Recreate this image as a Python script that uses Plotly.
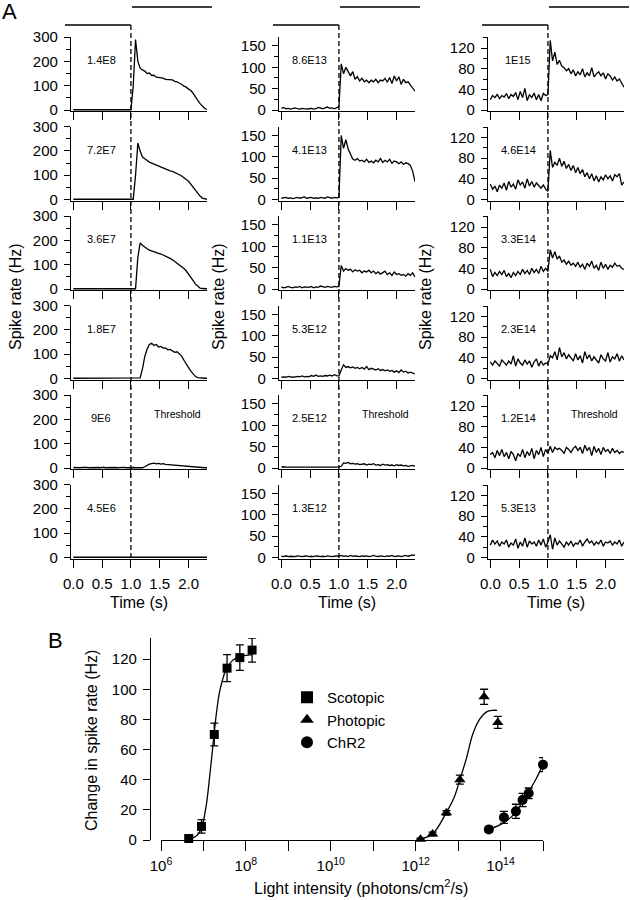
import plotly.graph_objects as go

W, H = 630, 900
FONT = "Liberation Sans, Arial, sans-serif"

# ---------------- Panel A data (spike rate, Hz) ----------------
time_s = [0.00, 0.04, 0.08, 0.12, 0.16, 0.20, 0.24, 0.28, 0.32, 0.36,
          0.40, 0.44, 0.48, 0.52, 0.56, 0.60, 0.64, 0.68, 0.72, 0.76,
          0.80, 0.84, 0.88, 0.92, 0.96, 1.00, 1.04, 1.08, 1.12, 1.16,
          1.20, 1.24, 1.28, 1.32, 1.36, 1.40, 1.44, 1.48, 1.52, 1.56,
          1.60, 1.64, 1.68, 1.72, 1.76, 1.80, 1.84, 1.88, 1.92, 1.96,
          2.00, 2.04, 2.08, 2.12, 2.16, 2.20, 2.24, 2.28, 2.32]

# Scotopic column
sc_1_4e8 = [1, 1, 2, 1, 1, 1, 2, 1, 1, 1, 1, 2, 1, 1, 1, 1, 1, 2, 1, 1, 1, 1, 1, 2, 1, 1,
            100, 290, 200, 172, 165, 160, 150, 152, 142, 143, 135, 134, 130, 131, 126, 125,
            122, 124, 118, 116, 110, 106, 98, 94, 86, 80, 68, 52, 40, 26, 14, 6, 2]
sc_7_2e7 = [1, 1, 1, 2, 1, 1, 1, 1, 2, 1, 1, 1, 1, 1, 2, 1, 1, 1, 1, 2, 1, 1, 1, 1, 1, 1, 1,
            100, 232, 200, 175, 168, 160, 154, 150, 146, 140, 136, 132, 129, 125, 123, 118,
            116, 112, 109, 102, 97, 88, 82, 75, 62, 48, 38, 26, 14, 6, 2, 1]
sc_3_6e7 = [1, 1, 2, 1, 1, 1, 1, 2, 1, 1, 1, 1, 1, 2, 1, 1, 1, 1, 1, 2, 1, 1, 1, 1, 2, 1, 1, 1,
            130, 190, 180, 172, 166, 160, 156, 152, 150, 147, 144, 140, 137, 130, 126, 120,
            113, 106, 100, 92, 84, 74, 62, 48, 34, 20, 10, 4, 2, 1, 1]
sc_1_8e7 = [1, 1, 1, 2, 1, 1, 1, 1, 1, 2, 1, 1, 1, 1, 1, 1, 2, 1, 1, 1, 1, 1, 2, 1, 1, 1, 1, 1, 1,
            3, 40, 90, 120, 140, 145, 136, 140, 130, 132, 125, 126, 118, 120, 112, 108, 110,
            100, 92, 75, 62, 45, 30, 18, 8, 4, 2, 1, 1, 1]
sc_9e6 = [2, 1, 2, 1, 3, 1, 2, 1, 2, 1, 1, 2, 1, 3, 1, 2, 1, 1, 2, 1, 2, 1, 3, 1, 2, 1, 2, 1, 1, 2, 1,
          5, 12, 16, 18, 20, 17, 19, 16, 18, 15, 14, 15, 12, 13, 11, 12, 9, 8, 7, 5, 4, 3, 2, 2,
          1, 2, 1, 1]
sc_4_5e6 = [1, 1, 1, 1, 1, 1, 1, 1, 1, 1, 1, 1, 1, 1, 1, 1, 1, 1, 1, 1, 1, 1, 1, 1, 1, 1, 1, 1, 1,
            1, 1, 1, 1, 1, 2, 3, 4, 3, 4, 3, 4, 3, 3, 2, 3, 2, 2, 2, 1, 1, 1, 1, 1, 1, 1, 1, 1, 1, 1]

# Photopic column
ph_8_6e13 = [4, 6, 3, 4, 2, 3, 5, 3, 2, 4, 3, 2, 3, 4, 2, 3, 6, 4, 3, 5, 7, 4, 5, 3, 6, 8,
             108, 85, 100, 88, 80, 90, 72, 78, 68, 74, 66, 70, 64, 70, 66, 72, 64, 70, 68, 74,
             65, 76, 62, 80, 68, 78, 60, 72, 64, 66, 58, 52, 44]
ph_4_1e13 = [3, 4, 5, 3, 4, 2, 4, 5, 3, 4, 6, 3, 4, 5, 3, 4, 3, 5, 4, 3, 6, 4, 3, 5, 4, 5,
             150, 120, 140, 118, 105, 95, 92, 96, 90, 92, 88, 94, 87, 90, 86, 92, 88, 96, 87, 92,
             88, 94, 85, 90, 88, 84, 88, 82, 86, 84, 80, 66, 42]
ph_1_1e13 = [5, 3, 4, 6, 4, 3, 5, 4, 6, 3, 5, 4, 4, 6, 3, 5, 4, 7, 5, 4, 6, 5, 4, 6, 5, 6,
             55, 42, 48, 44, 46, 40, 45, 42, 44, 38, 42, 40, 44, 38, 42, 36, 40, 35, 38, 42,
             34, 38, 32, 40, 34, 36, 32, 34, 30, 36, 32, 38, 28]
ph_5_3e12 = [3, 4, 3, 5, 4, 3, 4, 5, 4, 6, 4, 5, 4, 7, 5, 8, 5, 6, 5, 7, 6, 8, 6, 9, 7, 6,
             20, 32, 26, 28, 25, 27, 24, 26, 23, 26, 22, 28, 21, 24, 22, 20, 23, 19, 21, 18,
             20, 17, 19, 15, 18, 14, 20, 15, 17, 13, 15, 12, 11]
ph_2_5e12 = [2, 3, 2, 2, 3, 2, 3, 2, 2, 3, 2, 3, 2, 2, 3, 2, 3, 2, 3, 2, 2, 3, 2, 3, 2, 2,
             4, 12, 11, 13, 10, 11, 9, 10, 8, 9, 10, 7, 9, 8, 10, 7, 8, 6, 9, 7, 8, 6, 7, 5, 8,
             6, 7, 5, 6, 4, 5, 6, 4]
ph_1_3e12 = [3, 2, 4, 2, 3, 3, 2, 4, 3, 2, 3, 4, 2, 3, 2, 4, 3, 2, 3, 2, 4, 3, 2, 3, 4, 3,
             5, 3, 4, 2, 5, 3, 4, 3, 2, 4, 3, 4, 2, 3, 5, 3, 2, 4, 3, 2, 4, 3, 5, 2, 3, 4, 2, 3,
             5, 3, 4, 6, 5]

# ChR2 column
ch_1e15 = [20, 28, 24, 30, 22, 28, 25, 32, 22, 30, 26, 34, 20, 36, 24, 42, 18, 30, 24, 33,
           20, 30, 18, 32, 28, 30,
           135, 95, 112, 88, 96, 85, 82, 76, 80, 70, 78, 66, 74, 68, 80, 64, 72, 66, 82, 64,
           70, 74, 66, 72, 60, 70, 66, 58, 64, 56, 60, 52, 44]
ch_4_6e14 = [30, 20, 26, 15, 28, 22, 32, 18, 35, 24, 30, 20, 38, 28, 34, 22, 40, 26, 35, 24,
             32, 26, 22, 28, 20, 16,
             95, 62, 72, 66, 80, 64, 74, 60, 68, 56, 66, 52, 62, 50, 58, 44, 52, 40, 50, 36,
             46, 34, 44, 38, 48, 40, 46, 36, 48, 44, 50, 28, 34]
ch_3_3e14 = [38, 24, 32, 26, 34, 28, 36, 24, 30, 22, 32, 26, 34, 28, 38, 30, 36, 28, 40, 32,
             38, 30, 44, 34, 40, 34,
             76, 60, 72, 58, 64, 52, 56, 48, 54, 46, 50, 44, 52, 42, 48, 38, 50, 44, 54, 40,
             46, 36, 52, 40, 48, 38, 46, 42, 50, 44, 46, 40, 38]
ch_2_3e14 = [32, 26, 34, 28, 24, 36, 30, 26, 34, 28, 44, 24, 38, 30, 26, 36, 28, 34, 22, 32,
             38, 24, 34, 26, 30, 28,
             44, 40, 52, 36, 60, 42, 50, 38, 46, 40, 34, 48, 36, 44, 30, 52, 38, 46, 34, 42,
             36, 30, 46, 38, 34, 50, 32, 42, 38, 48, 34, 44, 36]
ch_1_2e14 = [26, 30, 20, 34, 24, 36, 22, 30, 18, 32, 26, 14, 28, 22, 36, 20, 32, 24, 38, 18,
             34, 26, 40, 22, 36, 28,
             42, 30, 40, 36, 38, 34, 28, 40, 36, 30, 38, 42, 34, 40, 28, 44, 34, 40, 24, 42,
             30, 38, 26, 40, 32, 36, 28, 38, 30, 34, 28, 32, 30]
ch_5_3e13 = [24, 34, 26, 32, 22, 30, 26, 34, 20, 28, 24, 36, 18, 30, 22, 38, 20, 32, 26, 30,
             22, 34, 24, 36, 20, 30,
             44, 16, 38, 24, 32, 26, 20, 30, 24, 32, 22, 28, 26, 34, 22, 30, 36, 28, 32, 24,
             30, 26, 34, 22, 30, 28, 32, 24, 30, 26, 34, 22, 30]

traces = [[sc_1_4e8, sc_7_2e7, sc_3_6e7, sc_1_8e7, sc_9e6, sc_4_5e6],
          [ph_8_6e13, ph_4_1e13, ph_1_1e13, ph_5_3e12, ph_2_5e12, ph_1_3e12],
          [ch_1e15, ch_4_6e14, ch_3_3e14, ch_2_3e14, ch_1_2e14, ch_5_3e13]]
intensity_labels = [["1.4E8", "7.2E7", "3.6E7", "1.8E7", "9E6", "4.5E6"],
                    ["8.6E13", "4.1E13", "1.1E13", "5.3E12", "2.5E12", "1.3E12"],
                    ["1E15", "4.6E14", "3.3E14", "2.3E14", "1.2E14", "5.3E13"]]
threshold_row = 4
time_ticks = [0, 0.5, 1, 1.5, 2]
time_tick_text = ["0.0", "0.5", "1.0", "1.5", "2.0"]

# ---------------- Panel B data ----------------
scot_x = [4.5e6, 9e6, 1.8e7, 3.6e7, 7.2e7, 1.4e8]
scot_y = [1, 9, 70, 114, 121, 126]
scot_err = [1, 4.5, 7.5, 9, 8.5, 8]
phot_x = [1.3e12, 2.5e12, 5.3e12, 1.1e13, 4.1e13, 8.6e13]
phot_y = [0.5, 4, 18, 40, 95, 78]
phot_err = [0.8, 1.2, 1.5, 3, 5, 4]
chr2_x = [5.3e13, 1.2e14, 2.3e14, 3.3e14, 4.6e14, 1e15]
chr2_y = [7, 15, 19, 26.5, 31, 50]
chr2_err = [2, 4, 4.7, 4.4, 3.5, 4.6]

scot_fit_x = [4.5e6, 7e6, 9e6, 1.15e7, 1.4e7, 1.66e7, 2e7, 2.35e7, 2.8e7, 3.4e7, 4.8e7, 6.9e7, 1e8, 1.4e8]
scot_fit_y = [0.5, 3, 8, 22, 42, 62, 83, 97, 106, 113, 119, 121.5, 122.5, 123]
phot_fit_x = [1.26e12, 2.5e12, 5e12, 8e12, 1.1e13, 1.6e13, 2.2e13, 3.2e13, 4.7e13, 6.5e13, 8.3e13]
phot_fit_y = [0.5, 4, 17, 28, 40, 55, 70, 80, 85, 86, 86]
chr2_fit_x = [5.3e13, 1.2e14, 2.3e14, 3.3e14, 4.6e14, 7e14, 1e15]
chr2_fit_y = [7, 11.5, 18.5, 25.5, 32, 41, 50]

labeled_decades = [1e6, 1e8, 1e10, 1e12, 1e14]
labeled_decade_text = ["10<sup>6</sup>", "10<sup>8</sup>", "10<sup>10</sup>",
                       "10<sup>12</sup>", "10<sup>14</sup>"]
unlabeled_decades = [1e7, 1e9, 1e11, 1e13, 1e15]


def pxx(p):
    return p / W


def pxy(p):
    return 1 - p / H


def suffix(n):
    return "" if n == 1 else str(n)


col_left = [71, 279, 488]
col_w = 136
row_top = [37 + 89.5 * k for k in range(6)]
row_h = 74
y_ranges = [[-4.1, 300.5], [-2.3, 171], [-1.9, 141.3]]
y_dtick = [100, 50, 40]
y_minor = [50, 25, 20]

fig = go.Figure()
layout = {}
annotations = []
shapes = []
LW = 1.3

for c in range(3):
    for r in range(6):
        n = c * 6 + r + 1
        s = suffix(n)
        fig.add_trace(go.Scatter(x=time_s, y=traces[c][r], mode="lines",
                                 line=dict(color="black", width=1.3),
                                 xaxis="x" + s, yaxis="y" + s,
                                 showlegend=False, hoverinfo="skip"))
        layout["xaxis" + s] = dict(
            domain=[pxx(col_left[c]), pxx(col_left[c] + col_w)], anchor="y" + s,
            range=[-0.04, 2.32], tickmode="array", tickvals=time_ticks, ticktext=time_tick_text,
            showticklabels=(r == 5), ticks="outside", ticklen=8, tickwidth=LW, tickcolor="black",
            showline=True, linewidth=LW, linecolor="black", showgrid=False, zeroline=False,
            automargin=False,
            tickfont=dict(size=15, color="black"), ticklabelstandoff=3)
        layout["yaxis" + s] = dict(
            domain=[pxy(row_top[r] + row_h), pxy(row_top[r])], anchor="x" + s,
            range=y_ranges[c], tickmode="linear", tick0=0, dtick=y_dtick[c],
            ticks="outside", ticklen=6, tickwidth=LW, tickcolor="black",
            minor=dict(ticks="outside", ticklen=3.5, dtick=y_minor[c], tick0=0,
                       tickcolor="black", tickwidth=LW, showgrid=False),
            showline=True, linewidth=LW, linecolor="black", showgrid=False, zeroline=False,
            automargin=False,
            tickfont=dict(size=15, color="black"), ticklabelstandoff=3)
        annotations.append(dict(text=intensity_labels[c][r], xref="paper", yref="paper",
                                x=pxx(col_left[c] + 30), y=pxy(row_top[r] + 23),
                                showarrow=False, font=dict(size=11, color="black"),
                                xanchor="center", yanchor="middle"))
        if r == threshold_row:
            annotations.append(dict(text="Threshold", xref="paper", yref="paper",
                                    x=pxx(col_left[c] + 106), y=pxy(row_top[r] + 19),
                                    showarrow=False, font=dict(size=10.5, color="black"),
                                    xanchor="center", yanchor="middle"))
    # stimulus step bar and dashed onset line
    top_n = suffix(c * 6 + 1)
    x_on = col_left[c] + 1.04 * 57.63
    shapes.append(dict(type="line", xref="paper", yref="paper",
                       x0=pxx(col_left[c] - 6), x1=pxx(x_on), y0=pxy(25), y1=pxy(25),
                       line=dict(color="black", width=LW)))
    shapes.append(dict(type="line", xref="paper", yref="paper",
                       x0=pxx(x_on + 1), x1=pxx(col_left[c] + col_w + 5), y0=pxy(7), y1=pxy(7),
                       line=dict(color="black", width=LW)))
    shapes.append(dict(type="line", xref="x" + top_n, yref="paper",
                       x0=1, x1=1, y0=pxy(25), y1=pxy(row_top[5] + row_h),
                       line=dict(color="black", width=LW, dash="5px,3px")))
    annotations.append(dict(text="Time (s)", xref="paper", yref="paper",
                            x=pxx(col_left[c] + 68), y=pxy(602), showarrow=False,
                            font=dict(size=16, color="black"), xanchor="center", yanchor="middle"))

for xp in [15, 218, 425]:
    annotations.append(dict(text="Spike rate (Hz)", xref="paper", yref="paper",
                            x=pxx(xp), y=pxy(297), showarrow=False, textangle=-90,
                            font=dict(size=16, color="black"), xanchor="center", yanchor="middle"))

annotations.append(dict(text="A", xref="paper", yref="paper", x=pxx(9), y=pxy(11),
                        showarrow=False, font=dict(size=22, color="black"),
                        xanchor="center", yanchor="middle"))
annotations.append(dict(text="B", xref="paper", yref="paper", x=pxx(55), y=pxy(640),
                        showarrow=False, font=dict(size=22, color="black"),
                        xanchor="center", yanchor="middle"))

# ---------------- Panel B ----------------
for fx, fy in [(scot_fit_x, scot_fit_y), (phot_fit_x, phot_fit_y), (chr2_fit_x, chr2_fit_y)]:
    fig.add_trace(go.Scatter(x=fx, y=fy, mode="lines", line=dict(color="black", width=1.3, shape="spline"),
                             xaxis="x19", yaxis="y19", showlegend=False, hoverinfo="skip",
                             cliponaxis=False))

for name, xs, ys, es, sym, sz in [("Scotopic", scot_x, scot_y, scot_err, "square", 9),
                                  ("Photopic", phot_x, phot_y, phot_err, "triangle-up", 10),
                                  ("ChR2", chr2_x, chr2_y, chr2_err, "circle", 10)]:
    fig.add_trace(go.Scatter(x=xs, y=ys, mode="markers", name=name,
                             marker=dict(symbol=sym, size=sz, color="black"),
                             error_y=dict(type="data", array=es, visible=True, color="black",
                                          thickness=1.3, width=4),
                             xaxis="x19", yaxis="y19", cliponaxis=False))

layout["xaxis19"] = dict(
    domain=[pxx(161), pxx(543)], anchor="y19", type="log", range=[6, 15],
    tickmode="array", tickvals=labeled_decades, ticktext=labeled_decade_text,
    ticks="outside", ticklen=10, tickwidth=LW, tickcolor="black",
    minor=dict(tickmode="array", tickvals=unlabeled_decades, ticks="outside", ticklen=10,
               tickwidth=LW, tickcolor="black", showgrid=False),
    showline=True, linewidth=LW, linecolor="black", showgrid=False, zeroline=False,
    automargin=False,
    tickfont=dict(size=15, color="black"), ticklabelstandoff=2)
layout["yaxis19"] = dict(
    domain=[pxy(840), pxy(638)], anchor="free", position=pxx(150), range=[0, 134],
    tickmode="linear", tick0=0, dtick=20, ticks="outside", ticklen=7, tickwidth=LW,
    tickcolor="black", showline=True, linewidth=LW, linecolor="black", showgrid=False,
    zeroline=False, automargin=False,
    tickfont=dict(size=15, color="black"), ticklabelstandoff=3)

annotations.append(dict(text="Change in spike rate (Hz)", xref="paper", yref="paper",
                        x=pxx(91), y=pxy(740), showarrow=False, textangle=-90,
                        font=dict(size=16, color="black"), xanchor="center", yanchor="middle"))
annotations.append(dict(text="Light intensity (photons/cm<sup>2</sup>/s)", xref="paper", yref="paper",
                        x=pxx(361), y=pxy(887), showarrow=False,
                        font=dict(size=16, color="black"), xanchor="center", yanchor="middle"))

fig.update_layout(
    template="none",
    width=W, height=H, autosize=False, margin=dict(l=0, r=0, t=0, b=0, pad=0, autoexpand=False),
    paper_bgcolor="white", plot_bgcolor="white",
    font=dict(family=FONT, color="black"),
    showlegend=True,
    legend=dict(x=pxx(287), y=pxy(681), xanchor="left", yanchor="top",
                font=dict(size=15, color="black"), bgcolor="rgba(0,0,0,0)",
                tracegroupgap=0, itemsizing="constant"),
    annotations=annotations, shapes=shapes,
    **layout)

fig.write_html("out.html", config={"displayModeBar": False},
               post_script="document.body.style.margin='0px';document.body.style.padding='0px';")
